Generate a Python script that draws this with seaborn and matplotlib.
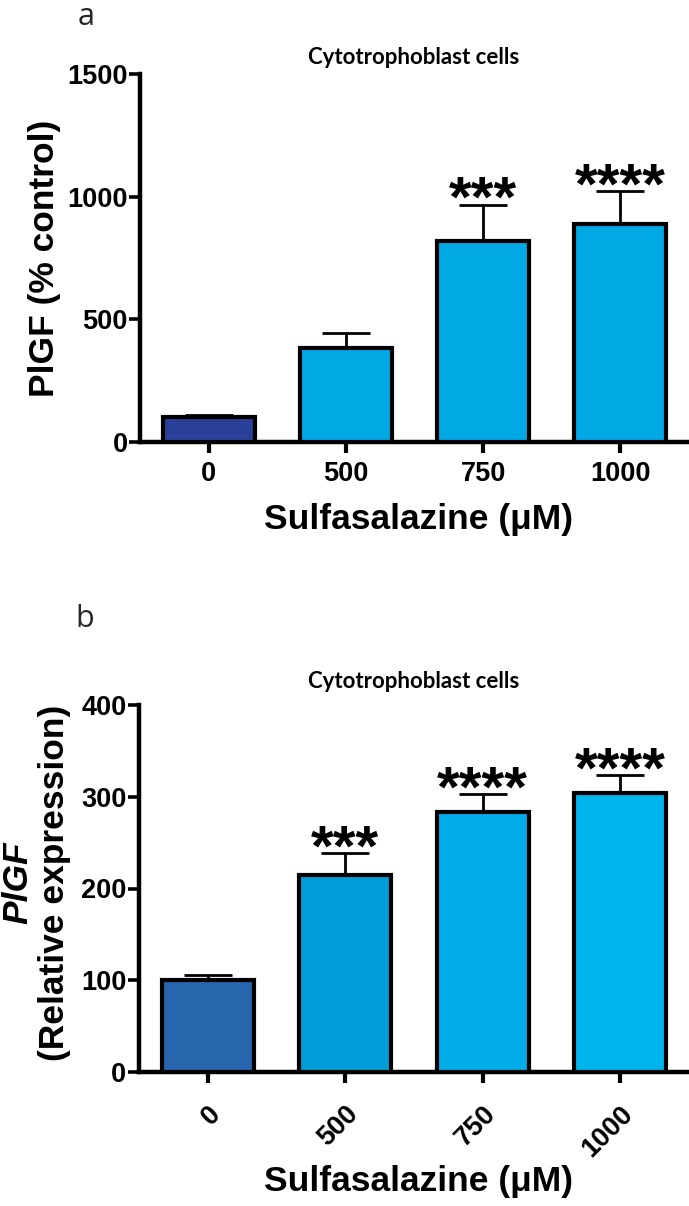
import numpy as np
import pandas as pd
import matplotlib
matplotlib.use("Agg")
import matplotlib.pyplot as plt
import seaborn as sns

# doses (uM)
doses = ["0", "500", "750", "1000"]

# panel a: PlGF protein (% control)
a_mean = [103, 385, 821, 887]
a_err = [7, 60, 147, 136]
a_stars = ["", "", "***", "****"]
a_colors = ["#2A3F98", "#00A9E3", "#00A9E3", "#00A9E3"]

# panel b: PlGF mRNA (relative expression)
b_mean = [100, 215, 283, 304]
b_err = [6, 24, 20, 20]
b_stars = ["", "***", "****", "****"]
b_colors = ["#2866AE", "#009ED9", "#00ADE8", "#00B4EE"]

sns.set_theme(style="ticks")
plt.rcParams["font.family"] = ["Liberation Sans", "DejaVu Sans"]

W, H = 689, 1206
fig = plt.figure(figsize=(W / 100, H / 100), dpi=100)

def px_axes(left, top, right, bottom):
    return fig.add_axes([left / W, 1 - bottom / H, (right - left) / W, (bottom - top) / H])

ax_a = px_axes(140, 74, 689, 442)
ax_b = px_axes(139, 705, 689, 1072)

tick_family = ["Liberation Sans Narrow", "Liberation Sans"]


def draw_panel(ax, mean, err, stars, colors, ymax, ystep, rotate):
    df = pd.DataFrame({"dose": doses, "value": mean})
    sns.barplot(data=df, x="dose", y="value", hue="dose", palette=colors,
                saturation=1, legend=False, width=0.67, edgecolor="black",
                linewidth=3.0, ax=ax, zorder=3)
    ax.errorbar(range(len(doses)), mean, yerr=[np.zeros(len(err)), err],
                fmt="none", ecolor="black", elinewidth=2.0, capsize=17,
                capthick=2.0, zorder=2)
    for i, s in enumerate(stars):
        if s:
            ax.annotate(s, xy=(i, mean[i] + err[i]), xytext=(0, -9),
                        textcoords="offset points", ha="center", va="baseline",
                        fontsize=42, fontweight="bold", color="black")
    ax.set_xlim(-0.5, 3.5)
    ax.set_ylim(0, ymax)
    ax.set_yticks(np.arange(0, ymax + 1, ystep))
    sns.despine(ax=ax)
    for sp in ["left", "bottom"]:
        ax.spines[sp].set_linewidth(3.2)
        ax.spines[sp].set_color("black")
    ax.tick_params(axis="y", length=8, width=2.6, pad=1, colors="black")
    ax.tick_params(axis="x", length=8, width=3.0, pad=13 if rotate else 6,
                   colors="black")
    for lab in ax.get_yticklabels() + ax.get_xticklabels():
        lab.set_fontfamily(tick_family)
        lab.set_fontweight("bold")
        lab.set_fontsize(19.5)
    if rotate:
        for lab in ax.get_xticklabels():
            lab.set_rotation(45)
            lab.set_ha("right")
            lab.set_va("top")
            lab.set_rotation_mode("anchor")
    ax.set_xlabel("")
    ax.set_ylabel("")


draw_panel(ax_a, a_mean, a_err, a_stars, a_colors, 1500, 500, False)
draw_panel(ax_b, b_mean, b_err, b_stars, b_colors, 400, 100, True)

label_kw = dict(fontsize=25.5, fontweight="bold", color="black")
title_kw = dict(fontsize=16, fontweight="bold", color="black",
                family=["Lato", "DejaVu Sans"], ha="center", va="center")

# panel a texts
fig.text(86 / W, 1 - 25 / H, "a", fontsize=22, ha="center", va="baseline",
         family=["Open Sans", "DejaVu Sans"])
fig.text(414 / W, 1 - 57 / H, "Cytotrophoblast cells", **title_kw)
fig.text(45 / W, 1 - 258 / H, "PlGF (% control)", rotation=90,
         ha="center", va="center", **label_kw)
fig.text(418 / W, 1 - 520 / H, "Sulfasalazine (\u03bcM)", ha="center",
         va="center", **label_kw)

# panel b texts
fig.text(85 / W, 1 - 627 / H, "b", fontsize=22, ha="center", va="baseline",
         family=["Open Sans", "DejaVu Sans"])
fig.text(414 / W, 1 - 681 / H, "Cytotrophoblast cells", **title_kw)
fig.text(18 / W, 1 - 883 / H, "PlGF", rotation=90, ha="center", va="center",
         style="italic", **label_kw)
fig.text(55 / W, 1 - 883 / H, "(Relative expression)", rotation=90,
         ha="center", va="center", **label_kw)
fig.text(418 / W, 1 - 1182 / H, "Sulfasalazine (\u03bcM)", ha="center",
         va="center", **label_kw)

fig.savefig("out.png", dpi=100)
